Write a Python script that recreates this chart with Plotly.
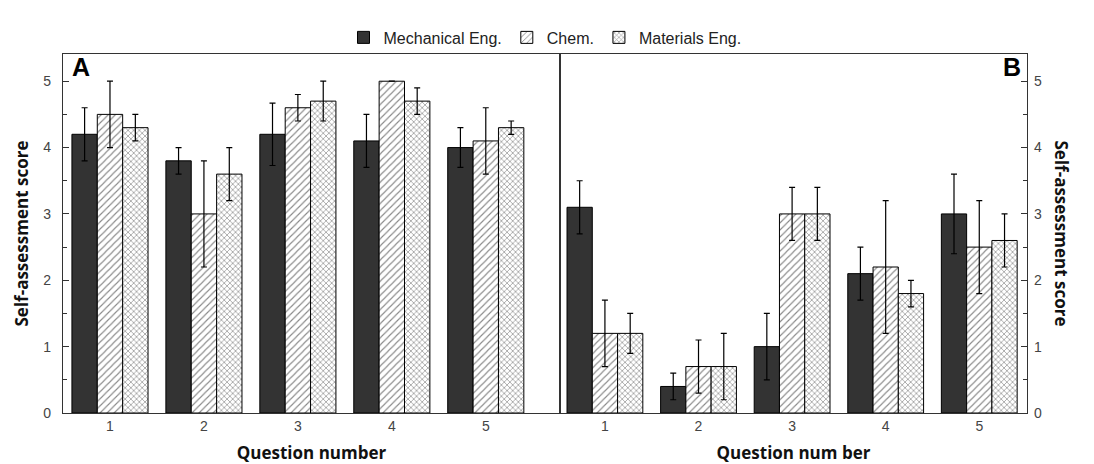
import plotly.graph_objects as go

questions = [1, 2, 3, 4, 5]
series_names = ["Mechanical Eng.", "Chem.", "Materials Eng."]

# Panel A
a_mech = [4.2, 3.8, 4.2, 4.1, 4.0]
a_mech_err = [0.4, 0.2, 0.47, 0.4, 0.3]
a_chem = [4.5, 3.0, 4.6, 5.0, 4.1]
a_chem_err = [0.5, 0.8, 0.2, 0.0, 0.5]
a_mat = [4.3, 3.6, 4.7, 4.7, 4.3]
a_mat_err = [0.2, 0.4, 0.3, 0.2, 0.1]

# Panel B
b_mech = [3.1, 0.4, 1.0, 2.1, 3.0]
b_mech_err = [0.4, 0.2, 0.5, 0.4, 0.6]
b_chem = [1.2, 0.7, 3.0, 2.2, 2.5]
b_chem_err = [0.5, 0.4, 0.4, 1.0, 0.7]
b_mat = [1.2, 0.7, 3.0, 1.8, 2.6]
b_mat_err = [0.3, 0.5, 0.4, 0.2, 0.4]

styles = [
    dict(color="#333333", pattern=dict(shape="")),
    dict(color="white", pattern=dict(shape="/", fgcolor="#111111", bgcolor="white", size=5, solidity=0.22)),
    dict(color="white", pattern=dict(shape="x", fgcolor="#333333", bgcolor="white", size=4, solidity=0.35)),
]

fig = go.Figure()
panels = [
    ("x", "y", [a_mech, a_chem, a_mat], [a_mech_err, a_chem_err, a_mat_err], True),
    ("x2", "y2", [b_mech, b_chem, b_mat], [b_mech_err, b_chem_err, b_mat_err], False),
]
for xa, ya, vals, errs, show in panels:
    for i in range(3):
        fig.add_trace(go.Bar(
            x=questions, y=vals[i], name=series_names[i], xaxis=xa, yaxis=ya,
            showlegend=show, legendgroup=series_names[i],
            marker=dict(color=styles[i]["color"], pattern=styles[i]["pattern"],
                        line=dict(color="black", width=1)),
            error_y=dict(type="data", array=errs[i], visible=True,
                         color="black", thickness=1.2, width=3),
        ))

L, R = 55, 1019
divider = 552
d = (divider - L) / (R - L)

tickfont = dict(family="Liberation Sans, Arial", size=14, color="#444444")
titlefont = dict(family="Open Sans, DejaVu Sans", size=17, color="#111111")

axis_common = dict(showline=True, linecolor="#333333", linewidth=1.2, mirror=True,
                   showgrid=False, zeroline=False)
yax = dict(range=[0, 5.41], tickvals=[0, 1, 2, 3, 4, 5], ticks="inside", ticklen=6,
           tickcolor="#333333", tickfont=tickfont,
           minor=dict(dtick=0.5, ticks="inside", ticklen=4, tickcolor="#333333"), **axis_common)
xax = dict(tickvals=questions, ticks="", tickfont=tickfont, **axis_common)

fig.update_layout(
    width=1094, height=464,
    margin=dict(l=L, r=1094 - R, t=43, b=54),
    paper_bgcolor="white", plot_bgcolor="white",
    barmode="group", bargap=0.19, bargroupgap=0,
    xaxis=dict(domain=[0, d], range=[0.5, 5.79],
               title=dict(text="<b>Question number</b>", font=titlefont, standoff=14),
               **xax),
    xaxis2=dict(domain=[d, 1], range=[0.52, 5.51], anchor="y2",
                title=dict(text="<b>Question num ber</b>", font=titlefont, standoff=14),
                **xax),
    yaxis=dict(ticklabelstandoff=8, **yax),
    yaxis2=dict(anchor="x2", side="right", ticklabelstandoff=3, **yax),
    legend=dict(orientation="h", x=0.5, xanchor="center", y=1.046, yanchor="middle",
                bgcolor="rgba(0,0,0,0)",
                font=dict(family="Liberation Sans, Arial", size=16, color="#222222"),
                itemwidth=30, tracegroupgap=0),
    annotations=[
        dict(text="<b>A</b>", xref="x", yref="y", x=0.57, y=5.22, xanchor="left", yanchor="middle",
             showarrow=False, font=dict(family="Liberation Sans, Arial", size=25, color="black")),
        dict(text="<b>B</b>", xref="x2", yref="y2", x=5.47, y=5.22, xanchor="right", yanchor="middle",
             showarrow=False, font=dict(family="Liberation Sans, Arial", size=25, color="black")),
        dict(text="<b>Self-assessment score</b>", xref="paper", yref="paper", x=0.0, xshift=-42, y=0.5,
             textangle=-90, showarrow=False, xanchor="center", yanchor="middle",
             font=titlefont),
        dict(text="<b>Self-assessment score</b>", xref="paper", yref="paper", x=1.0, xshift=34, y=0.5,
             textangle=90, showarrow=False, xanchor="center", yanchor="middle",
             font=titlefont),
    ],
)

fig.write_html("out.html")
